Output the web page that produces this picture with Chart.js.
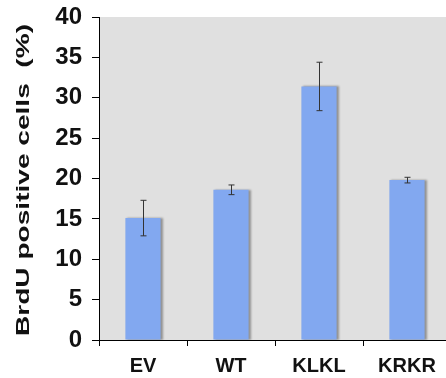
<!DOCTYPE html>
<html>
  <head>
    <meta charset="UTF-8" />
    <script src="https://cdn.jsdelivr.net/npm/chart.js"></script>
    <style>
      html, body { margin: 0; padding: 0; background: #fff; overflow: hidden; }
      #wrap { width: 451px; height: 378px; }
    </style>
  </head>
  <body>
    <div id="wrap"><canvas id="myChart"></canvas></div>
    <script>
      const categories = ["EV", "WT", "KLKL", "KRKR"];
      const brduValues = [15.1, 18.6, 31.4, 19.8];
      const brduErrors = [2.2, 0.6, 3.0, 0.35];
      const yTicks = [0, 5, 10, 15, 20, 25, 30, 35, 40];
      const yTitle = "BrdU positive cells  (%)";

      const font = "'Liberation Sans', Arial, sans-serif";

      // grey plot background
      const plotBackground = {
        id: "plotBackground",
        beforeDraw(chart) {
          const { ctx, chartArea } = chart;
          ctx.save();
          ctx.fillStyle = "#e0e0e0";
          ctx.fillRect(chartArea.left, chartArea.top, chartArea.right - chartArea.left, chartArea.bottom - chartArea.top);
          ctx.restore();
        },
      };

      // soft shadow to the right of each bar
      const barShadow = {
        id: "barShadow",
        beforeDatasetsDraw(chart) {
          const ctx = chart.ctx;
          ctx.save();
          ctx.shadowColor = "rgba(0,0,0,0.35)";
          ctx.shadowOffsetX = 2;
          ctx.shadowOffsetY = 0;
          ctx.shadowBlur = 2;
        },
        afterDatasetsDraw(chart) {
          chart.ctx.restore();
        },
      };

      const errorBars = {
        id: "errorBars",
        afterDatasetsDraw(chart) {
          const { ctx } = chart;
          const y = chart.scales.y;
          const meta = chart.getDatasetMeta(0);
          ctx.save();
          ctx.strokeStyle = "#333";
          ctx.lineWidth = 1;
          meta.data.forEach((bar, i) => {
            const x = Math.round(bar.x) + 0.5;
            const top = y.getPixelForValue(brduValues[i] + brduErrors[i]);
            const bot = y.getPixelForValue(brduValues[i] - brduErrors[i]);
            ctx.beginPath();
            ctx.moveTo(x, top);
            ctx.lineTo(x, bot);
            ctx.moveTo(x - 3, top);
            ctx.lineTo(x + 3, top);
            ctx.moveTo(x - 3, bot);
            ctx.lineTo(x + 3, bot);
            ctx.stroke();
          });
          ctx.restore();
        },
      };

      // y title: the original lettering is stretched along its length
      const stretchedTitle = {
        id: "stretchedTitle",
        afterDraw(chart) {
          const { ctx } = chart;
          ctx.save();
          ctx.font = "bold 19px " + font;
          ctx.fillStyle = "#111";
          ctx.textAlign = "center";
          ctx.textBaseline = "middle";
          const w = ctx.measureText(yTitle).width;
          ctx.translate(24, 180);
          ctx.rotate(-Math.PI / 2);
          ctx.scale(312 / w, 1);
          ctx.fillText(yTitle, 0, 0);
          ctx.restore();
        },
      };

      new Chart(document.getElementById("myChart"), {
        type: "bar",
        data: {
          labels: categories,
          datasets: [
            {
              data: brduValues,
              backgroundColor: "#82a8f0",
              borderWidth: 0,
              categoryPercentage: 1,
              barPercentage: 0.4,
            },
          ],
        },
        options: {
          responsive: true,
          maintainAspectRatio: false,
          animation: false,
          layout: { padding: { top: 17, right: 0, bottom: 0, left: 0 } },
          plugins: { legend: { display: false }, tooltip: { enabled: false } },
          scales: {
            x: {
              grid: {
                offset: true,
                drawOnChartArea: false,
                color: "#000",
                tickLength: 6,
              },
              border: { color: "#000", width: 1 },
              ticks: {
                color: "#111",
                font: { family: font, size: 20, weight: "bold" },
                padding: 8,
              },
              afterFit(scale) {
                scale.height = 38;
                scale.paddingLeft = 0;
                scale.paddingRight = 0;
              },
            },
            y: {
              min: 0,
              max: 40,
              afterBuildTicks(scale) {
                scale.ticks = yTicks.map(v => ({ value: v }));
              },
              grid: {
                drawOnChartArea: false,
                color: "#000",
                tickLength: 7,
              },
              border: { color: "#000", width: 1 },
              ticks: {
                color: "#111",
                font: { family: font, size: 24, weight: "bold" },
                padding: 10,
              },
              afterFit(scale) {
                scale.width = 99;
                scale.paddingTop = 0;
                scale.paddingBottom = 0;
              },
            },
          },
        },
        plugins: [plotBackground, barShadow, errorBars, stretchedTitle],
      });
    </script>
  </body>
</html>
